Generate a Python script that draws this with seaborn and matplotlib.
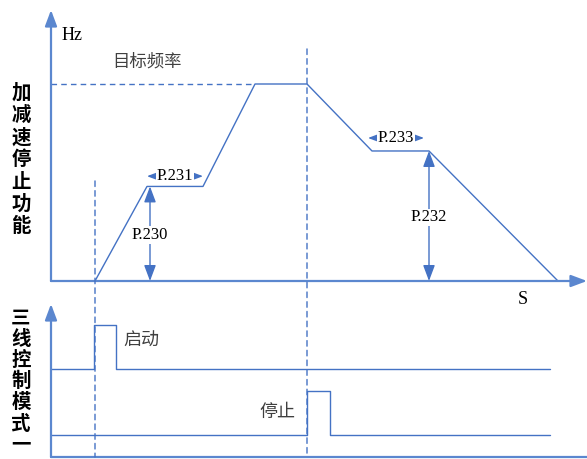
import numpy as np
import pandas as pd
import seaborn as sns
import matplotlib.pyplot as plt
from matplotlib.patches import ConnectionPatch

# speed profile (time units, Hz)
profile_t = [4.4, 9.6, 15.2, 20.4, 25.6, 32.1, 37.8, 50.7]
profile_f = [0, 24, 24, 50, 50, 33, 33, 0]
target_f = 50
p230 = 24
p232 = 33

# three-wire control signals (0 = low, 1 = high)
start_t = [0, 4.3, 4.3, 6.5, 6.5, 49.9]
start_s = [0, 0, 1, 1, 0, 0]
stop_t = [0, 25.6, 25.6, 27.9, 27.9, 49.9]
stop_s = [0, 0, 1, 1, 0, 0]

top_label = list('加减速停止功能')
bottom_label = list('三线控制模式一')

blue = '#4472C4'
axis_blue = '#5B87CF'
grey = '#404040'
dash = (0, (4, 3))

sns.set_theme(style='white')
plt.rcParams['font.family'] = ['Noto Sans CJK SC', 'DejaVu Sans']
serif = ['Liberation Serif', 'DejaVu Serif']

W, H = 587, 459
fig = plt.figure(figsize=(W / 100, H / 100), dpi=100)
ax = fig.add_axes([51 / W, 1 - 281 / H, 536 / W, 271 / H])
ax2 = fig.add_axes([51 / W, 1 - 457 / H, 536 / W, 153 / H])

k = 50 / 197  # Hz per pixel
for a in (ax, ax2):
    a.set_xlim(0, 53.6)
    a.patch.set_alpha(0)
    for sp in a.spines.values():
        sp.set_visible(False)
    a.set_xticks([])
    a.set_yticks([])
ax.set_ylim(0, 271 * k)
ax2.set_ylim(0, 153 / 44)


def axis_arrows(a, right_head=True):
    a.annotate('', xy=(0, 1), xytext=(0, 0), xycoords='axes fraction',
               arrowprops=dict(arrowstyle='-|>,head_length=0.8,head_width=0.3',
                               color=axis_blue, lw=1.6, shrinkA=0, shrinkB=0))
    style = '-|>,head_length=0.8,head_width=0.3' if right_head else '-'
    a.annotate('', xy=(1, 0), xytext=(0, 0), xycoords='axes fraction',
               arrowprops=dict(arrowstyle=style, color=axis_blue, lw=1.6,
                               shrinkA=0, shrinkB=0))


axis_arrows(ax)
axis_arrows(ax2, right_head=False)

prof = pd.DataFrame({'t': profile_t, 'f': profile_f})
sns.lineplot(data=prof, x='t', y='f', ax=ax, sort=False, estimator=None,
             color=blue, lw=1.0)
ax.set_xlabel('')
ax.set_ylabel('')
ax.plot([0, profile_t[3]], [target_f, target_f], color=blue, lw=1.0, ls=dash)

# dashed verticals spanning both panels
for t, ftop in [(profile_t[0], 25.4), (profile_t[4], 58.9)]:
    cp = ConnectionPatch(xyA=(t, ftop), coordsA=ax.transData,
                         xyB=(t, 0), coordsB=ax2.transData,
                         color=blue, lw=1.0, ls=dash)
    fig.add_artist(cp)


def dbl_arrow(a, p0, p1):
    a.annotate('', xy=p1, xytext=p0,
               arrowprops=dict(arrowstyle='<|-|>,head_length=0.8,head_width=0.3',
                               color=blue, lw=1.0, shrinkA=0, shrinkB=0))


box = dict(facecolor='white', edgecolor='none', pad=0.5)
dbl_arrow(ax, (9.9, 0), (9.9, p230))
ax.text(9.9, 11.7, 'P.230', ha='center', va='center', fontsize=12,
        family=serif, color='black', bbox=box)
dbl_arrow(ax, (9.6, 26.6), (15.2, 26.6))
ax.text(12.4, 26.6, 'P.231', ha='center', va='center', fontsize=12,
        family=serif, color='black', bbox=box)
dbl_arrow(ax, (31.7, 36.3), (37.3, 36.3))
ax.text(34.5, 36.3, 'P.233', ha='center', va='center', fontsize=12,
        family=serif, color='black', bbox=box)
dbl_arrow(ax, (37.8, 0), (37.8, p232))
ax.text(37.8, 16.2, 'P.232', ha='center', va='center', fontsize=12,
        family=serif, color='black', bbox=box)

ax.text(2.1, 62.4, 'Hz', ha='center', va='center', fontsize=13,
        family=serif, color='black')
ax.text(9.6, 55.6, '目标频率', ha='center', va='center', fontsize=12.5, color=grey)
ax.text(47.2, -4.8, 'S', ha='center', va='center', fontsize=13, family=serif,
        color='black', clip_on=False)

sig = pd.DataFrame({'t': start_t + stop_t,
                    's': [v + 2 for v in start_s] + [v + 0.5 for v in stop_s],
                    'name': ['start'] * len(start_t) + ['stop'] * len(stop_t)})
sns.lineplot(data=sig, x='t', y='s', units='name', ax=ax2, sort=False,
             estimator=None, color=blue, lw=1.0)
ax2.set_xlabel('')
ax2.set_ylabel('')
ax2.text(9.0, 2.64, '启动', ha='center', va='center', fontsize=13, color=grey)
ax2.text(22.6, 1.02, '停止', ha='center', va='center', fontsize=13, color=grey)

for i, ch in enumerate(top_label):
    fig.text(21 / W, 1 - (93 + i * 22.3) / H, ch, ha='center', va='center',
             fontsize=14, fontweight='bold', color='black')
for i, ch in enumerate(bottom_label):
    fig.text(21 / W, 1 - (318 + i * 21.2) / H, ch, ha='center', va='center',
             fontsize=14, fontweight='bold', color='black')

fig.savefig('out.png', dpi=100)
